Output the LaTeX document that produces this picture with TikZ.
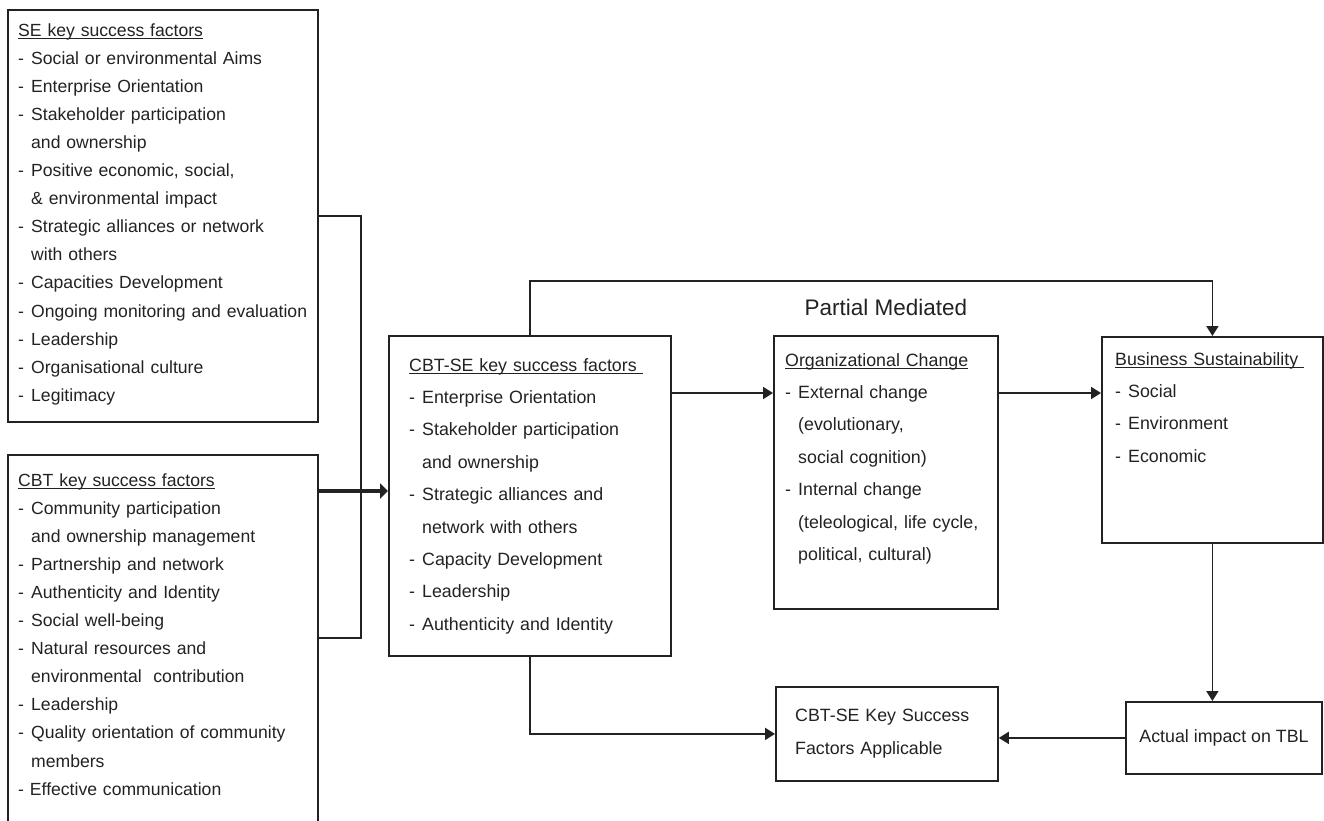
\documentclass[tikz,border=0pt]{standalone}
\usepackage{fontspec}
\setmainfont{Liberation Sans}
\usetikzlibrary{positioning, calc, arrows.meta}
\definecolor{ink}{HTML}{222222}
\newcommand{\itm}[1]{\makebox[13pt][l]{-}#1}
\newcommand{\cnt}[1]{\hspace*{13pt}#1}
\newcommand{\undl}[1]{\setbox0\hbox{#1}\rlap{\rule[-2.6pt]{\wd0}{0.7pt}}\box0}

\begin{document}
\begin{tikzpicture}[x=1pt, y=-1pt,
  box/.style={draw=ink, line width=1.8pt, anchor=north west, inner sep=0pt},
  txt/.style={anchor=base west, inner sep=0pt, text=ink, align=left, text width=300pt},
  tight/.style={font=\fontsize{17.6}{28.1}\selectfont},
  loose/.style={font=\fontsize{17.8}{32.4}\selectfont},
  arr/.style={draw=ink, line width=1.8pt, -{Triangle[length=10pt,width=12pt]}},
  thickarr/.style={draw=ink, line width=3.4pt, -{Triangle[length=8pt,width=15pt]}},
  link/.style={draw=ink, line width=1.8pt}]
\useasboundingbox (0,0) rectangle (1324,820);
% boxes
\node[box, minimum width=310pt, minimum height=412pt] (se) at (7,9) {};
\node[box, minimum width=310pt, minimum height=400pt] (cbt) at (7,454) {};
\node[box, minimum width=282pt, minimum height=320pt] (cbtse) at (388,335) {};
\node[box, minimum width=224pt, minimum height=273pt] (org) at (773,335) {};
\node[box, minimum width=221pt, minimum height=206pt] (bs) at (1101,336) {};
\node[box, minimum width=222pt, minimum height=94pt] (appl) at (775,686) {};
\node[box, minimum width=196pt, minimum height=72pt] (tbl) at (1125,701) {};
% texts
\node[txt, tight] (setxt) at (18,36) {\undl{SE key success factors}\\
  \itm{Social or environmental Aims}\\
  \itm{Enterprise Orientation}\\
  \itm{Stakeholder participation}\\
  \cnt{and ownership}\\
  \itm{Positive economic, social,}\\
  \cnt{\& environmental impact}\\
  \itm{Strategic alliances or network}\\
  \cnt{with others}\\
  \itm{Capacities Development}\\
  \itm{Ongoing monitoring and evaluation}\\
  \itm{Leadership}\\
  \itm{Organisational culture}\\
  \itm{Legitimacy}};
\node[txt, tight] (cbttxt) at (18,486) {\undl{CBT key success factors}\\
  \itm{Community participation}\\
  \cnt{and ownership management}\\
  \itm{Partnership and network}\\
  \itm{Authenticity and Identity}\\
  \itm{Social well-being}\\
  \itm{Natural resources and}\\
  \cnt{environmental\ \ contribution}\\
  \itm{Leadership}\\
  \itm{Quality orientation of community}\\
  \cnt{members}\\
  - Effective communication};
\node[txt, loose] (cbtsetxt) at (409,371) {\undl{CBT-SE key success factors\ }\\
  \itm{Enterprise Orientation}\\
  \itm{Stakeholder participation}\\
  \cnt{and ownership}\\
  \itm{Strategic alliances and}\\
  \cnt{network with others}\\
  \itm{Capacity Development}\\
  \itm{Leadership}\\
  \itm{Authenticity and Identity}};
\node[txt, loose] (orgtxt) at (785,366) {\undl{Organizational Change}\\
  \itm{External change}\\
  \cnt{(evolutionary,}\\
  \cnt{social cognition)}\\
  \itm{Internal change}\\
  \cnt{(teleological, life cycle,}\\
  \cnt{political, cultural)}};
\node[txt, loose] (bstxt) at (1115,365) {\undl{Business Sustainability\ }\\
  \itm{Social}\\
  \itm{Environment}\\
  \itm{Economic}};
\node[txt, font=\fontsize{17.8}{33}\selectfont] (appltxt) at (795,721) {CBT-SE Key Success\\
  Factors Applicable};
\node[anchor=base, inner sep=0pt, text=ink, font=\fontsize{17.8}{22}\selectfont] (tbltxt) at (1224,742) {Actual impact on TBL};
\node[anchor=base, inner sep=0pt, text=ink, font=\fontsize{22.5}{26}\selectfont] (pm) at (886,315) {Partial Mediated};
% connectors
\draw[link] (se.east) -- ++(42,0) |- ([yshift=-184pt]cbt.north east);
\draw[thickarr] ([yshift=-37pt]cbt.north east) coordinate (m) -- (m -| cbtse.west);
\draw[arr] ([yshift=-58pt]cbtse.north east) coordinate (a) -- (a -| org.west);
\draw[arr] ([yshift=-58pt]org.north east) coordinate (b) -- (b -| bs.west);
\draw[arr] (cbtse.north) -- ++(0,-54) -| (bs.north);
\draw[arr] (bs.south) -- (bs.south |- tbl.north);
\draw[arr] (tbl.west) -- (tbl.west -| appl.east);
\draw[arr] (cbtse.south) |- (appl.west);
\end{tikzpicture}
\end{document}
